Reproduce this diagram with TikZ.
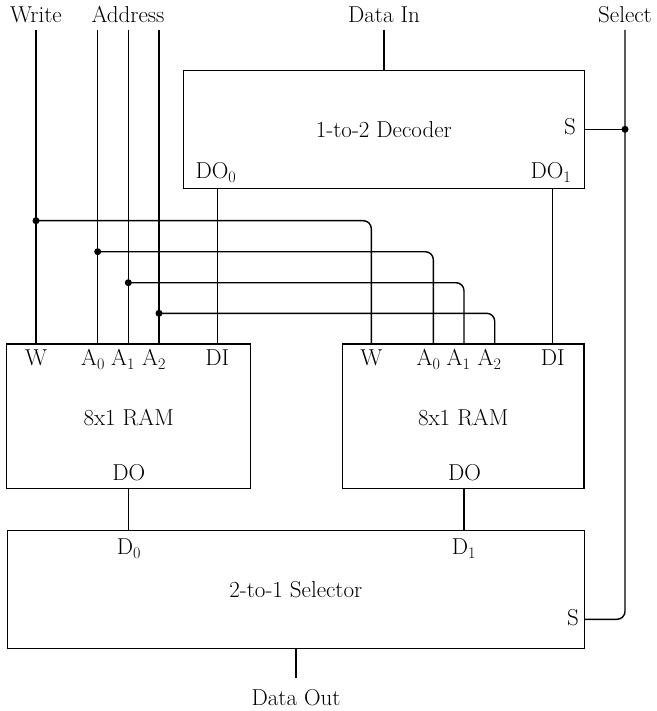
\documentclass[tikz,border=0pt]{standalone}
\usepackage{fontspec}
\usetikzlibrary{calc}
\begin{document}
\begin{tikzpicture}[x=1pt,y=-1pt,
  wire/.style={line width=1.4pt},
  blk/.style={draw,line width=1.4pt,inner sep=0pt,outer sep=0pt},
  lbl/.style={inner sep=0pt,anchor=base,font=\fontsize{23}{27}\selectfont},
  dot/.style={circle,fill,inner sep=0pt,minimum size=7pt}]
\useasboundingbox (0,0) rectangle (656,711);
% boxes
\node[blk,minimum width=401pt,minimum height=117.6pt] (dec) at (383.8,129.5) {};
\node[blk,minimum width=244pt,minimum height=144.3pt] (ram1) at (128.7,416.2) {};
\node[blk,minimum width=241.7pt,minimum height=144.3pt] (ram2) at (463.15,416.2) {};
\node[blk,minimum width=577pt,minimum height=118pt] (sel) at (295.8,589.2) {};
% titles
\node[lbl] (tdec) at (383.8,138) {1-to-2 Decoder};
\node[lbl] (tram1) at (128.7,425) {8x1 RAM};
\node[lbl] (tram2) at (463.2,425) {8x1 RAM};
\node[lbl] (tsel) at (295.8,597) {2-to-1 Selector};
% external labels
\node[lbl] (lwrite) at (36,22.7) {Write};
\node[lbl] (laddr) at (128,22.7) {Address};
\node[lbl] (ldin) at (384,22.7) {Data In};
\node[lbl] (lsel) at (625,22.7) {Select};
\node[lbl] (ldout) at (296,705) {Data Out};
% input coordinates
\coordinate (wr) at (36,30);
\coordinate (a0) at (97.7,30);
\coordinate (a1) at (128.3,30);
\coordinate (a2) at (159,30);
\coordinate (din) at (384,30);
\coordinate (sl) at (625,30);
\coordinate (dout) at (296,678.3);
% port coordinates
\coordinate (do0) at (217.3,188.3);
\coordinate (do1) at (552.7,188.3);
\coordinate (w2) at (371.3,344);
\coordinate (a02) at (433.3,344);
\coordinate (a12) at (464,344);
\coordinate (a22) at (494.7,344);
\coordinate (r1o) at (128.3,488.3);
\coordinate (r2o) at (464,488.3);
% port labels decoder
\node[lbl] (pdo0) at (216,178.3) {DO\textsubscript{0}};
\node[lbl] (pdo1) at (551,178.3) {DO\textsubscript{1}};
\node[lbl] (pds) at (570,135) {S};
% port labels ram1
\node[lbl] (p1w) at (36,365.7) {W};
\node[lbl] (p1a0) at (93,365.7) {A\textsubscript{0}};
\node[lbl] (p1a1) at (123,365.7) {A\textsubscript{1}};
\node[lbl] (p1a2) at (154,365.7) {A\textsubscript{2}};
\node[lbl] (p1di) at (217.3,365.7) {DI};
\node[lbl] (p1do) at (128.7,480) {DO};
% port labels ram2
\node[lbl] (p2w) at (371.3,365.7) {W};
\node[lbl] (p2a0) at (428.6,365.7) {A\textsubscript{0}};
\node[lbl] (p2a1) at (458.6,365.7) {A\textsubscript{1}};
\node[lbl] (p2a2) at (489.6,365.7) {A\textsubscript{2}};
\node[lbl] (p2di) at (552.7,365.7) {DI};
\node[lbl] (p2do) at (464.5,480) {DO};
% selector labels
\node[lbl] (pd0) at (129,554.3) {D\textsubscript{0}};
\node[lbl] (pd1) at (464,554.3) {D\textsubscript{1}};
\node[lbl] (pss) at (573,625) {S};
% vertical inputs into RAM1
\draw[wire] (wr) -- (wr |- ram1.north);
\draw[wire] (a0) -- (a0 |- ram1.north);
\draw[wire] (a1) -- (a1 |- ram1.north);
\draw[wire] (a2) -- (a2 |- ram1.north);
% branches to RAM2
\node[dot] (jw) at (36,220.7) {};
\node[dot] (ja0) at (97.7,251.7) {};
\node[dot] (ja1) at (128.3,282.7) {};
\node[dot] (ja2) at (159,313.3) {};
\draw[wire,rounded corners=8pt] (jw.center) -| (w2);
\draw[wire,rounded corners=8pt] (ja0.center) -| (a02);
\draw[wire,rounded corners=8pt] (ja1.center) -| (a12);
\draw[wire,rounded corners=8pt] (ja2.center) -| (a22);
% decoder
\draw[wire] (din) -- (din |- dec.north);
\draw[wire] (do0) -- (do0 |- ram1.north);
\draw[wire] (do1) -- (do1 |- ram2.north);
\node[dot] (js) at (625,129.3) {};
\draw[wire] (dec.east |- js) -- (js.center);
\draw[wire,rounded corners=8pt] (sl) |- (sel.east |- 0,619.3);
% RAM outputs
\draw[wire] (r1o) -- (r1o |- sel.north);
\draw[wire] (r2o) -- (r2o |- sel.north);
\draw[wire] (sel.south -| dout) -- (dout);
\end{tikzpicture}
\end{document}
